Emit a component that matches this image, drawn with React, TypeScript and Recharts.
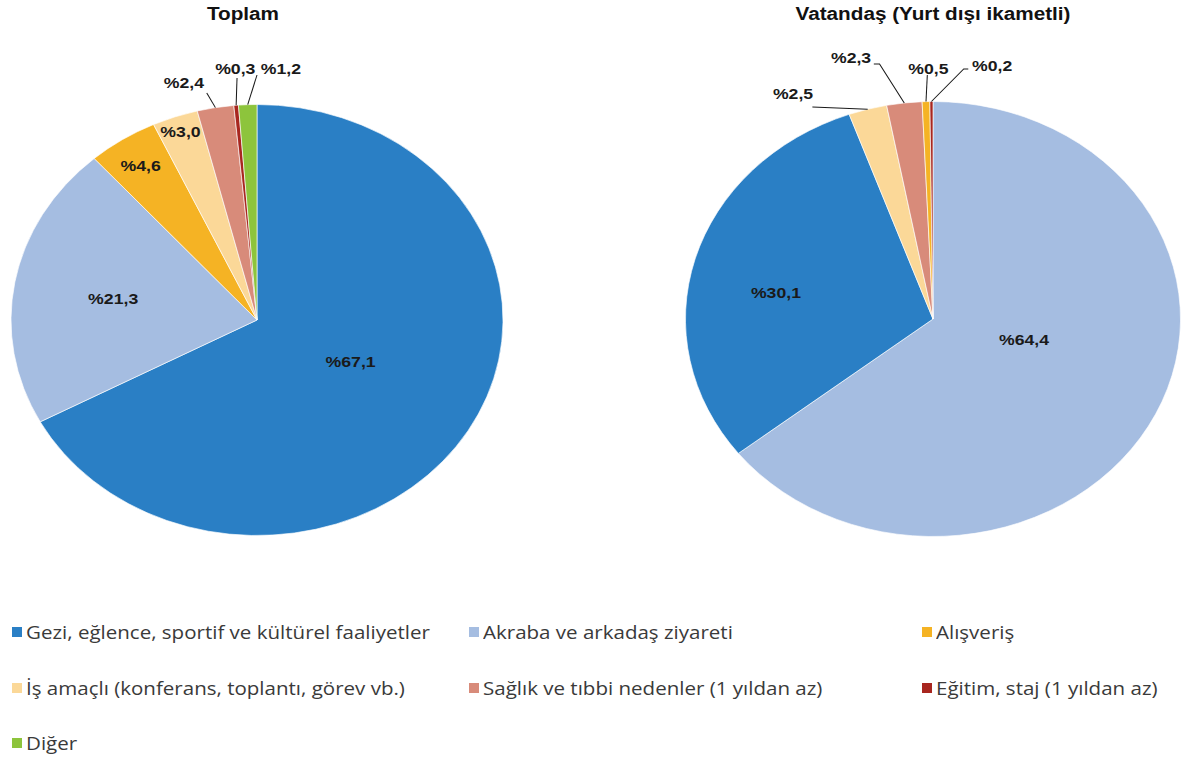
import React from 'react';
import { PieChart, Pie, Cell } from 'recharts';

const categories = [
  'Gezi, eğlence, sportif ve kültürel faaliyetler',
  'Akraba ve arkadaş ziyareti',
  'Alışveriş',
  'İş amaçlı (konferans, toplantı, görev vb.)',
  'Sağlık ve tıbbi nedenler (1 yıldan az)',
  'Eğitim, staj (1 yıldan az)',
  'Diğer',
];
const colors = ['#2A7FC5', '#A5BDE1', '#F5B324', '#FBD898', '#D88B7A', '#A8261F', '#8DC43C'];

// Toplam, in category order
const toplamValues = [67.1, 21.3, 4.6, 3.0, 2.4, 0.3, 1.2];

// Vatandaş (Yurt dışı ikametli), its own slice order
const vatandasNames = [
  'Akraba ve arkadaş ziyareti',
  'Gezi, eğlence, sportif ve kültürel faaliyetler',
  'İş amaçlı (konferans, toplantı, görev vb.)',
  'Sağlık ve tıbbi nedenler (1 yıldan az)',
  'Alışveriş',
  'Eğitim, staj (1 yıldan az)',
];
const vatandasValues = [64.4, 30.1, 2.5, 2.3, 0.5, 0.2];

const toplamData = categories.map((name, i) => ({ name, value: toplamValues[i] }));
const vatandasData = vatandasNames.map((name, i) => ({ name, value: vatandasValues[i] }));

const colorOf = (name: string) => colors[categories.indexOf(name)];
const fmt = (v: number) => '%' + v.toFixed(1).replace('.', ',');

// label layout: text offset from the pie centre, optional leader line path
type LabelPos = { x: number; y: number; line?: number[][] };
const toplamLabels: LabelPos[] = [
  { x: 82, y: 42 },
  { x: -126, y: -21 },
  { x: -102, y: -154 },
  { x: -67, y: -188 },
  { x: -64, y: -237, line: [[-44, -227]] },
  { x: -19, y: -251, line: [[-17.5, -242]] },
  { x: 21, y: -251, line: [[0, -245]] },
];
const vatandasLabels: LabelPos[] = [
  { x: 80, y: 21 },
  { x: -138, y: -26 },
  { x: -123, y: -225, line: [[-106, -212]] },
  { x: -72, y: -261, line: [[-47, -255], [-52, -255]] },
  { x: -4, y: -250, line: [[-5, -244]] },
  { x: 52, y: -253, line: [[27, -250], [31, -250]] },
];

const RAD = Math.PI / 180;
const SIZE = 600;
const C = SIZE / 2;

const makeLabel = (layout: LabelPos[]) => (props: any) => {
  const { cx, cy, midAngle, outerRadius, index, value } = props;
  const pos = layout[index];
  if (!pos) return null;
  let path = '';
  if (pos.line) {
    const ex = cx + outerRadius * Math.cos(-midAngle * RAD);
    const ey = cy + outerRadius * Math.sin(-midAngle * RAD);
    path = `M${ex},${ey}` + pos.line.map((p) => `L${cx + p[0]},${cy + p[1]}`).join('');
  }
  return (
    <g key={`lbl-${index}`}>
      {path && <path d={path} stroke="#1a1a1a" strokeWidth={0.9} fill="none" />}
      <text
        x={cx + pos.x}
        y={cy + pos.y}
        textAnchor="middle"
        dominantBaseline="central"
        fill="#1a1a1a"
        style={{ fontFamily: 'Liberation Sans, Arial, sans-serif', fontSize: 15.5, fontWeight: 700 }}
      >
        {fmt(value)}
      </text>
    </g>
  );
};

const PieBox = ({ data, labels, centerX, centerY, radius, scale }: any) => (
  <div
    style={{
      position: 'absolute',
      left: centerX - C,
      top: centerY - C,
      width: SIZE,
      height: SIZE,
      transform: `scaleX(${scale})`,
      transformOrigin: `${C}px ${C}px`,
    }}
  >
    <PieChart width={SIZE} height={SIZE} margin={{ top: 0, right: 0, bottom: 0, left: 0 }}>
      <Pie
        data={data}
        dataKey="value"
        nameKey="name"
        cx={C}
        cy={C}
        outerRadius={radius}
        startAngle={90}
        endAngle={-270}
        stroke="#ffffff"
        strokeWidth={0.6}
        label={makeLabel(labels)}
        labelLine={false}
        isAnimationActive={false}
      >
        {data.map((d: any, i: number) => (
          <Cell key={`c-${i}`} fill={colorOf(d.name)} />
        ))}
      </Pie>
    </PieChart>
  </div>
);

const titleStyle: React.CSSProperties = {
  position: 'absolute',
  top: 4,
  fontFamily: 'Liberation Sans, Arial, sans-serif',
  fontWeight: 700,
  fontSize: 18,
  color: '#111',
  transform: 'translateX(-50%) scaleX(1.15)',
  whiteSpace: 'nowrap',
};

const legendCols = [12, 469, 922];
const legendRows = [632, 688, 743];

export default function App() {
  return (
    <div
      style={{
        position: 'absolute',
        left: 0,
        top: 0,
        width: 1181,
        height: 761,
        background: '#fff',
        overflow: 'hidden',
      }}
    >
      <PieBox data={toplamData} labels={toplamLabels} centerX={257} centerY={319.5} radius={215.5} scale={1.1415} />
      <PieBox data={vatandasData} labels={vatandasLabels} centerX={932.5} centerY={318.5} radius={217.5} scale={1.138} />

      <div style={{ ...titleStyle, left: 243 }}>Toplam</div>
      <div style={{ ...titleStyle, left: 933 }}>Vatandaş (Yurt dışı ikametli)</div>

      {categories.map((name, i) => (
        <div
          key={name}
          style={{
            position: 'absolute',
            left: legendCols[i % 3],
            top: legendRows[Math.floor(i / 3)] - 12,
            height: 24,
            display: 'flex',
            alignItems: 'center',
            whiteSpace: 'nowrap',
          }}
        >
          <span style={{ display: 'inline-block', width: 10, height: 10, background: colors[i], marginRight: 4 }} />
          <span
            style={{
              display: 'inline-block',
              fontFamily: 'Open Sans, sans-serif',
              fontSize: 18,
              color: '#3a3a3a',
              transform: 'scaleX(1.14)',
              transformOrigin: '0 50%',
            }}
          >
            {name}
          </span>
        </div>
      ))}
    </div>
  );
}
